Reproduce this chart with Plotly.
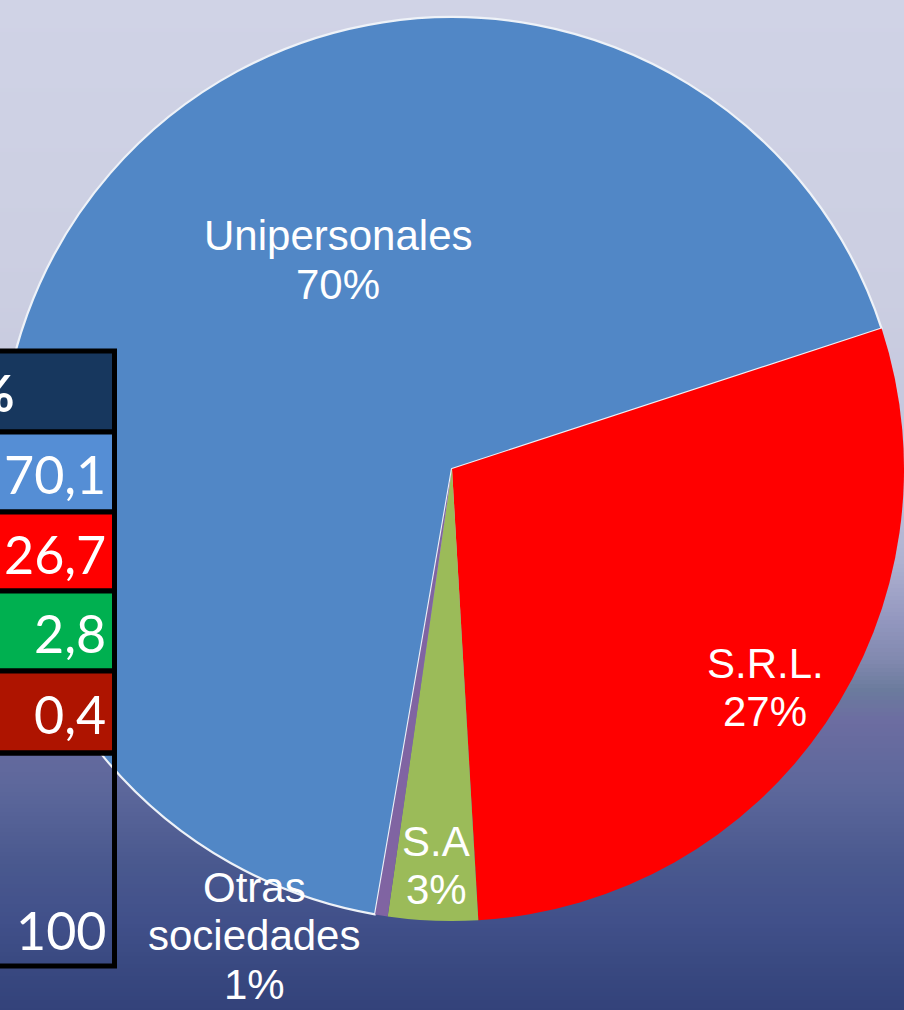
import plotly.graph_objects as go

# ---------------- data ----------------
slice_labels = ["Unipersonales", "S.R.L.", "S.A", "Otras sociedades"]
slice_share = [67.25, 29.1, 3.2, 0.45]          # slice sizes as drawn
pct_labels = ["70%", "27%", "3%", "1%"]          # printed percentages
label_lines = [["Unipersonales"], ["S.R.L."], ["S.A"], ["Otras", "sociedades"]]

table_header = "%"
table_values = ["70,1", "26,7", "2,8", "0,4"]
table_total = "100"

# ---------------- styles / layout ----------------
W, H = 904, 1010
def px(x): return x / W
def py(y): return 1 - y / H

slice_colors = ["#5187C6", "#FF0000", "#9BBB59", "#8064A2"]
slice_line_w = [2.2, 0, 0, 0]
row_fills = ["#17375E", "#558ED5", "#FF0000", "#00B050", "#AE1400", "rgba(0,0,0,0)"]
row_edges = [351, 432, 512, 591, 671, 753, 966]

bg_stops = [(0, "#D0D3E6"), (300, "#CBCEE1"), (470, "#C3C5DD"), (560, "#AFB2D1"),
            (620, "#9397BF"), (660, "#8189AF"), (690, "#6B7B9D"), (720, "#6C6DA1"),
            (790, "#5C679B"), (860, "#4A598F"), (920, "#41508A"), (960, "#3A4A82"),
            (1010, "#33427A")]

def hex2rgb(h):
    h = h.lstrip("#")
    return tuple(int(h[i:i + 2], 16) for i in (0, 2, 4))

def bg_color(y):
    for (y0, c0), (y1, c1) in zip(bg_stops[:-1], bg_stops[1:]):
        if y0 <= y <= y1:
            t = (y - y0) / (y1 - y0) if y1 > y0 else 0
            a, b = hex2rgb(c0), hex2rgb(c1)
            return "rgb(%d,%d,%d)" % tuple(round(a[i] + (b[i] - a[i]) * t) for i in range(3))
    return bg_stops[-1][1]

shapes = []
step = 4
for y in range(0, H, step):
    shapes.append(dict(type="rect", xref="paper", yref="paper", layer="below",
                       x0=0, x1=1, y0=py(y + step + 0.5), y1=py(y),
                       fillcolor=bg_color(y + step / 2), line=dict(width=0)))

# table cells
for i, fill in enumerate(row_fills):
    shapes.append(dict(type="rect", xref="paper", yref="paper", layer="above",
                       x0=px(-20), x1=px(114.5), y0=py(row_edges[i + 1]), y1=py(row_edges[i]),
                       fillcolor=fill, line=dict(color="black", width=5)))

# ---------------- figure ----------------
cx, cy, r = 452, 469, 452
fig = go.Figure(go.Pie(
    labels=slice_labels, values=slice_share, sort=False, direction="clockwise",
    rotation=189.8, textinfo="none", hoverinfo="label+percent", showlegend=False,
    marker=dict(colors=slice_colors,
                line=dict(color=["#EEF2F8"] * 4, width=slice_line_w)),
    domain=dict(x=[0, 1], y=[py(cy + r), py(cy - r)]),
))

annotations = []
label_anchor = [(338, 236), (765, 663), (436, 841), (254, 887)]
line_step = 48.5
for lines, pct, (ax, ay) in zip(label_lines, pct_labels, label_anchor):
    for k, txt in enumerate(lines + [pct]):
        annotations.append(dict(xref="paper", yref="paper", x=px(ax), y=py(ay + k * line_step),
                                xanchor="center", yanchor="middle", showarrow=False, text=txt,
                                font=dict(family="Liberation Sans, Arial, sans-serif",
                                          size=42, color="white")))

tfont = dict(family="Lato, sans-serif", size=52, color="white")
annotations.append(dict(xref="paper", yref="paper", x=px(17), y=py(392), xanchor="right",
                        yanchor="middle", showarrow=False, text="<b>%s</b>" % table_header,
                        font=tfont))
row_centers = [(row_edges[i + 1] + row_edges[i + 2]) / 2 for i in range(4)]
for val, yc in zip(table_values, row_centers):
    annotations.append(dict(xref="paper", yref="paper", x=px(108), y=py(yc + 2), xanchor="right",
                            yanchor="middle", showarrow=False, text=val, font=tfont))
annotations.append(dict(xref="paper", yref="paper", x=px(108), y=py(930), xanchor="right",
                        yanchor="middle", showarrow=False, text=table_total, font=tfont))

fig.update_layout(width=W, height=H, margin=dict(l=0, r=0, t=0, b=0),
                  paper_bgcolor="#C8CBE0", plot_bgcolor="rgba(0,0,0,0)",
                  shapes=shapes, annotations=annotations)

fig.write_html("out.html")
